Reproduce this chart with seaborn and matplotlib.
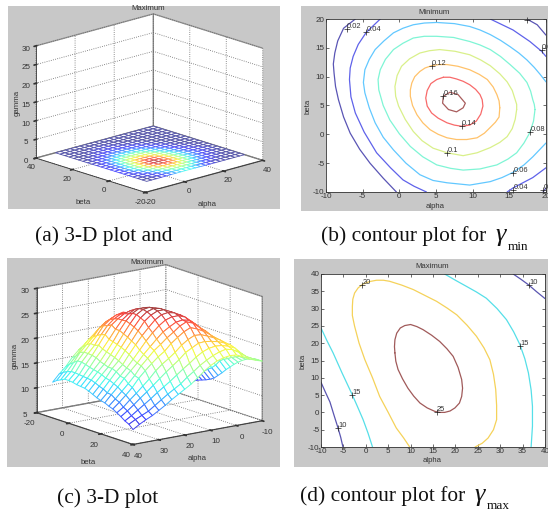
import matplotlib
matplotlib.use('Agg')
import matplotlib.pyplot as plt
from matplotlib import cm
from matplotlib.colors import Normalize
from matplotlib.patches import Rectangle
import numpy as np
import seaborn as sns

W, H = 548, 512

# mesh axes, shared by the two 3-D plots
mesh_alpha = [-10, -7.5, -5, -2.5, 0, 2.5, 5, 7.5, 10, 12.5, 15, 17.5, 20, 22.5, 25, 27.5, 30, 32.5, 35, 37.5, 40]
mesh_beta = [-10, -7.5, -5, -2.5, 0, 2.5, 5, 7.5, 10, 12.5, 15, 17.5, 20, 22.5, 25, 27.5, 30, 32.5, 35, 37.5, 40]

# gamma min, in hundredths, one row per beta
gamma_min_pct = [
    [0, 0, 0, 1, 2, 3, 4, 5, 5, 5, 4, 3, 2, 1, 0, 0, 0, 0, 0, 0, 0],
    [0, 0, 1, 1, 2, 4, 5, 6, 7, 7, 6, 5, 3, 2, 1, 1, 0, 0, 0, 0, 0],
    [0, 1, 1, 2, 4, 5, 7, 8, 9, 9, 8, 6, 5, 3, 2, 1, 1, 0, 0, 0, 0],
    [1, 1, 2, 3, 5, 7, 9, 10, 11, 10, 9, 8, 6, 4, 3, 2, 1, 1, 0, 0, 0],
    [1, 2, 3, 5, 7, 9, 11, 12, 13, 13, 11, 9, 7, 5, 4, 2, 1, 1, 0, 0, 0],
    [1, 2, 4, 6, 8, 11, 13, 15, 15, 14, 12, 10, 8, 6, 4, 3, 2, 1, 1, 0, 0],
    [1, 3, 5, 7, 9, 12, 14, 16, 16, 14, 13, 10, 8, 6, 4, 3, 2, 1, 1, 0, 0],
    [1, 3, 4, 7, 9, 11, 14, 15, 15, 14, 12, 10, 8, 6, 4, 3, 2, 1, 1, 0, 0],
    [1, 2, 4, 6, 8, 10, 12, 14, 14, 13, 11, 9, 7, 5, 4, 2, 1, 1, 0, 0, 0],
    [1, 2, 4, 6, 8, 10, 11, 12, 12, 11, 10, 8, 6, 5, 3, 2, 1, 1, 0, 0, 0],
    [1, 2, 3, 5, 7, 8, 10, 10, 10, 9, 8, 7, 5, 4, 2, 1, 1, 0, 0, 0, 0],
    [1, 1, 3, 4, 6, 7, 8, 8, 8, 8, 7, 5, 4, 3, 2, 1, 0, 0, 0, 0, 0],
    [0, 1, 2, 3, 4, 5, 6, 6, 6, 6, 5, 4, 3, 2, 1, 1, 0, 0, 0, 0, 0],
    [0, 1, 1, 2, 3, 4, 4, 4, 4, 4, 3, 3, 2, 1, 1, 0, 0, 0, 0, 0, 0],
    [0, 0, 1, 1, 2, 2, 3, 3, 3, 3, 2, 2, 1, 1, 0, 0, 0, 0, 0, 0, 0],
    [0, 0, 0, 1, 1, 1, 2, 2, 2, 1, 1, 1, 1, 0, 0, 0, 0, 0, 0, 0, 0],
    [0, 0, 0, 0, 1, 1, 1, 1, 1, 1, 1, 0, 0, 0, 0, 0, 0, 0, 0, 0, 0],
    [0, 0, 0, 0, 0, 1, 1, 1, 1, 0, 0, 0, 0, 0, 0, 0, 0, 0, 0, 0, 0],
    [0, 0, 0, 0, 0, 0, 0, 0, 0, 0, 0, 0, 0, 0, 0, 0, 0, 0, 0, 0, 0],
    [0, 0, 0, 0, 0, 0, 0, 0, 0, 0, 0, 0, 0, 0, 0, 0, 0, 0, 0, 0, 0],
    [0, 0, 0, 0, 0, 0, 0, 0, 0, 0, 0, 0, 0, 0, 0, 0, 0, 0, 0, 0, 0],
]

# gamma max, one row per beta
gamma_max = [
    [7, 8.7, 10, 12, 13.8, 15.6, 17, 18.7, 20, 21, 21.5, 21.7, 21.4, 20.7, 19.7, 18.7, 17.7, 16.4, 14.8, 13.6, 12.2],
    [7.5, 9, 10.5, 13, 14.6, 16.2, 18, 19.7, 21, 22, 22.8, 23, 22.8, 22.2, 21, 19.9, 18.6, 17, 15.6, 14.2, 12.8],
    [8, 9.5, 11, 13.5, 15.3, 17.2, 19, 20.6, 22, 23, 23.8, 24, 23.8, 23.2, 22.2, 20.6, 19.3, 18, 16.2, 14.6, 13.2],
    [8.5, 10.2, 11.8, 14, 16.1, 18, 20, 21.5, 22.9, 23.9, 24.6, 24.9, 24.6, 23.9, 22.9, 21.2, 19.8, 18.3, 16.8, 14.9, 13.6],
    [8.9, 10.6, 12.4, 14.6, 16.8, 19, 20.8, 22.4, 23.8, 24.6, 25, 25.1, 25, 24.3, 23.2, 21.6, 19.7, 18.3, 16.8, 14.9, 13.6],
    [9.2, 11, 13, 15, 17.5, 19.5, 21.4, 23, 24.3, 25.1, 25.6, 25.8, 25.4, 24.6, 23.6, 21.9, 20, 18.2, 16.6, 14.8, 13.5],
    [9.5, 11.3, 13.4, 15.6, 17.8, 19.8, 21.7, 23.6, 24.7, 25.6, 26.2, 26.3, 25.6, 24.6, 23, 21.2, 19.5, 18, 16.3, 14.7, 13.3],
    [9.9, 11.8, 14, 16.2, 18.2, 20.2, 22.2, 24, 25.4, 26.2, 26.7, 26.7, 26, 24.7, 23, 21, 19.2, 17.5, 16.1, 14.6, 13.2],
    [10.4, 12.4, 14.9, 16.7, 18.8, 20.8, 22.9, 24.7, 25.8, 26.6, 27, 26.8, 26, 24.4, 22.6, 20.7, 18.9, 17.2, 15.9, 14.5, 13.1],
    [11.2, 13, 15.4, 17.3, 19.5, 21.4, 23.4, 25.1, 26, 26.8, 27, 26.6, 25.6, 24, 22.2, 20.4, 18.6, 16.9, 15.6, 14.2, 12.8],
    [12, 13.8, 15.8, 17.9, 20.1, 22, 23.9, 25.4, 26.2, 26.8, 26.8, 26.2, 25.2, 23.5, 21.7, 20, 18.2, 16.9, 15.2, 13.8, 12.4],
    [12.9, 14.9, 16.5, 18.6, 20.6, 22.4, 24.2, 25.5, 26.2, 26.5, 26.3, 25.5, 24.2, 22.8, 21.2, 19.5, 17.7, 16.5, 15, 13.5, 12],
    [13.7, 15.5, 17.1, 19.2, 21, 22.7, 24.3, 25.4, 25.9, 25.9, 25.5, 24.6, 23.4, 22, 20.4, 18.8, 17.3, 15.9, 14.6, 13, 11.7],
    [14.5, 15.9, 17.6, 19.8, 21.3, 22.8, 24, 25, 25.3, 25.1, 24.4, 23.6, 22.4, 21.1, 19.8, 18.3, 17, 15.7, 14.2, 12.9, 11.5],
    [15.2, 16.4, 18, 20, 21.3, 22.6, 23.6, 24.7, 25.2, 24.6, 23.6, 22.7, 21.6, 20.6, 19.3, 18, 16.3, 14.9, 13.6, 12.3, 11.1],
    [15.8, 16.8, 18.3, 20.1, 21.2, 22.2, 23.1, 23.8, 24.3, 23.7, 22.8, 21.8, 20.5, 19.6, 18.5, 17.3, 16, 14.4, 13.1, 11.9, 10.8],
    [16.3, 17.1, 18.5, 20.2, 21.1, 21.8, 22.4, 22.9, 23, 22.4, 21.5, 20.3, 19.3, 18.4, 17.3, 15.9, 14.7, 13.5, 12.4, 11.2, 10.3],
    [16.6, 17.3, 18.6, 20.1, 20.8, 21.3, 21.6, 21.8, 21.7, 21, 20.3, 19.1, 18.1, 17.1, 16, 14.9, 13.8, 12.8, 11.7, 10.7, 9.8],
    [16.9, 17.4, 18.5, 19.8, 20.4, 20.8, 20.9, 20.7, 20.2, 19.4, 18.4, 17.5, 16.5, 15.5, 14.6, 13.7, 12.7, 11.8, 10.9, 10, 9.2],
    [17, 17.5, 18.2, 19.2, 20, 20.3, 20, 19.5, 18.8, 18, 17, 16.1, 15, 14.2, 13.4, 12.5, 11.6, 10.7, 10.1, 9.5, 8.8],
    [17, 17.4, 17.9, 18.6, 19.2, 19.3, 19.1, 18.7, 18, 17.1, 16, 15, 14.2, 13.4, 12.6, 11.7, 10.9, 10.1, 9.5, 8.8, 8],
]

# contour traces of panel (b), (alpha, beta)
min_002_left = [(-6, 20), (-7.6, 18.4), (-8.4, 16.2), (-8.8, 14.1), (-9, 12.2), (-8.9, 10.6), (-8.7, 8.3), (-8.3, 6), (-7.6, 3), (-6.7, 0.2), (-5.4, -2.6), (-4, -5), (-2.2, -7.6), (-0.4, -10)]
min_002_top = [(17.4, 20), (18.8, 19), (20, 17.2)]
min_002_low = [(19.6, -10), (20, -9.3)]
min_004_left = [(-2.6, 20), (-4.5, 17.7), (-5.6, 15.6), (-6.3, 13.5), (-6.7, 11.5), (-6.8, 9.5), (-6.6, 6.5), (-6, 3.7), (-4.8, 0.4), (-3.1, -3.2), (-1.2, -5.8), (0.5, -7.9), (2, -9), (3.7, -10)]
min_004_top = [(12.4, 20), (15.5, 18.1), (17.8, 16.1), (19.4, 14.4), (20, 13.5)]
min_004_low = [(14.7, -10), (15.5, -9.3), (18.2, -7.5), (20, -5.8)]
min_006 = [(20, 9.1), (19.2, 10.4), (18.4, 11.6), (17.4, 12.9), (16.3, 14.1), (15.1, 15.2), (13.8, 16.3), (12.4, 17.3), (11, 18.1), (9.6, 18.7), (7.5, 19.2), (5.1, 19.4), (3.4, 19.3), (1.9, 19), (0.5, 18.4), (-0.8, 17.6), (-2.1, 16.2), (-3.3, 14.7), (-4.1, 13), (-4.7, 11.2), (-4.9, 9), (-4.7, 7.2), (-4.1, 4.6), (-3.3, 2), (-2.2, -0.5), (-0.8, -2.7), (0.9, -5), (2.8, -7), (4.6, -8), (6.5, -8.4), (9.6, -8.8), (12.4, -8.2), (14, -7.5), (15.5, -6.6), (17, -5.3), (18.2, -3.9), (19.1, -2.7), (20, -1.5)]
min_008 = [(18.5, 4.3), (18.4, 5.2), (18.2, 6), (17.9, 7.5), (17.4, 9), (16.4, 10.6), (15.1, 12.1), (13.8, 13.5), (12.4, 14.7), (11, 15.5), (9.6, 16.1), (7.4, 16.8), (5.1, 17), (3.4, 17), (1.9, 16.7), (0.5, 15.8), (-0.8, 14.7), (-1.9, 13), (-2.6, 11.2), (-2.9, 9.5), (-2.8, 7.7), (-2.2, 5), (-1.3, 2.5), (0, 0.1), (1.5, -2.1), (3.2, -3.9), (5.1, -5.3), (7, -5.9), (8.7, -6.2), (11, -6), (13.3, -5.3), (14.8, -4.3), (16, -3.2), (17, -1.5), (17.8, 0.3), (18.3, 2.3), (18.5, 4.3)]
min_010 = [(16, 4.3), (16, 5.2), (15.8, 6), (15.4, 7.6), (14.7, 9.1), (13.7, 10.5), (12.4, 11.9), (11.1, 12.9), (9.6, 13.8), (7.6, 14.4), (5.5, 14.7), (4.1, 14.5), (2.8, 14.1), (1.4, 13.1), (0.3, 11.8), (-0.3, 10.2), (-0.6, 8.3), (-0.5, 6.6), (-0.1, 4.9), (0.8, 2.6), (1.9, 0.5), (3.1, -1.1), (4.6, -2.4), (6.5, -3.2), (8.7, -3.7), (10.6, -3.2), (12.4, -2.3), (13.7, -1.4), (14.7, -0.4), (15.4, 1), (15.8, 2.6), (16, 4.3)]
min_012 = [(13.7, 4.6), (13.6, 5.8), (13.3, 6.9), (12.8, 8.2), (12, 9.5), (10.9, 10.4), (9.6, 11.2), (8, 11.8), (6.5, 12.1), (5.4, 12.1), (4.4, 11.9), (3.5, 11.5), (2.8, 10.9), (2.1, 10), (1.7, 8.9), (1.5, 7.7), (1.5, 6.6), (1.8, 5), (2.4, 3.4), (3.2, 2), (4.2, 0.8), (5.3, 0), (6.5, -0.6), (7.8, -0.9), (9.2, -0.9), (10.6, -0.6), (11.6, 0.2), (12.4, 1.2), (13.1, 2.1), (13.6, 3), (13.7, 4.6)]
min_014 = [(6, 9.9), (5.1, 9.5), (4.3, 8.8), (3.8, 7.6), (3.6, 6.3), (3.8, 4.9), (4.4, 3.7), (5.3, 2.8), (6.5, 2), (7.5, 1.6), (8.5, 1.4), (9.6, 1.6), (10.5, 2.3), (11.1, 3.5), (11.4, 4.9), (11.3, 6), (11, 6.9), (10.4, 7.8), (9.6, 8.6), (8.7, 9.2), (7.8, 9.6), (6.9, 9.9), (6, 9.9)]
min_016 = [(6, 6.6), (6.9, 7.3), (8, 6.9), (9, 5.4), (8.7, 4.6), (7.8, 3.9), (6.7, 4.3), (5.9, 5.4), (6, 6.6)]

# contour traces of panel (d)
max_10_left = [(-10, 8.7), (-9, 5.8), (-8, 3), (-7.1, -0.8), (-6.2, -4.5), (-5.6, -7.2), (-5.1, -10)]
max_10_right = [(32.9, 40), (34.6, 38.5), (36.3, 36.9), (38.1, 34.9), (40, 32.9)]
max_15_left = [(-10, 24.4), (-8.7, 20.8), (-7.3, 17.2), (-5.3, 11.4), (-3.2, 5.6), (-1.9, 1.8), (-0.6, -2.1), (0.5, -6), (1.5, -10)]
max_15_right = [(17.6, 40), (20, 38.2), (22.5, 36.4), (24.7, 34.8), (26.9, 33), (29.3, 30), (31.4, 26.8), (33, 23.3), (34.4, 19.6), (35.5, 15.5), (36.3, 11.4), (36.9, 6.5), (37.2, 1.8), (37.2, -4), (36.9, -10)]
max_20 = [(9.8, -10), (8.4, -7.3), (6.8, -4.5), (5, 0), (3.1, 4.6), (1.5, 10), (-0.2, 15.2), (-1.5, 20), (-2.5, 24.9), (-3, 28), (-3, 30.6), (-2.9, 32.7), (-2.5, 34.5), (-1.7, 36), (-0.6, 37.1), (0.8, 37.8), (2.4, 38.2), (3.9, 38.2), (5.3, 37.9), (8, 36.8), (10.6, 35.5), (13.2, 33.8), (15.8, 32.1), (18.1, 30.2), (20.3, 28.2), (22.6, 25.2), (24.7, 22), (26.4, 18.6), (27.7, 15.2), (28.5, 11), (29, 6.6), (29.2, 2), (29.2, -2.1), (28.5, -5), (27.3, -7.4), (26, -8.9), (24.4, -10)]
max_25 = [(6.5, 17.2), (6.4, 19), (6.5, 21), (6.9, 22.9), (7.7, 24.4), (8.7, 25.1), (10, 25.4), (11.4, 24.8), (12.8, 23.9), (14.7, 22.3), (16.5, 20.5), (18.1, 18.4), (19.5, 16.2), (20.6, 13), (21.4, 9.5), (21.6, 7), (21.4, 4.6), (20.9, 2.7), (19.9, 1.3), (18.8, 0.4), (17.6, 0), (16.5, 0), (15.4, 0.3), (13.7, 1.3), (12.1, 2.7), (10.7, 4.7), (9.4, 7), (8.2, 9.7), (7.2, 12.4), (6.7, 14.8), (6.5, 17.2)]

# contour labels: text, alpha, beta
labels_min = [('0.02', -7.2, 18.3), ('0.04', -4.5, 17.7), ('0.12', 4.4, 11.8), ('0.16', 6, 6.6), ('0.14', 8.5, 1.5),
              ('0.1', 6.5, -3.2), ('0.08', 17.8, 0.4), ('0.06', 15.5, -6.7), ('0.04', 15.5, -9.6), ('0.02', 19.6, -9.7),
              ('0.04', 19.4, 14.6), ('', 17.4, 19.9)]
labels_max = [('20', -0.8, 36.8), ('10', 36.4, 36.8), ('15', 34.4, 19.1), ('15', -3.1, 5.1), ('10', -6.3, -4.4), ('25', 15.8, 0.1)]

captions = ['(a) 3-D plot and', '(b) contour plot for', '(c) 3-D plot', '(d) contour plot for']

sns.set_theme(style='white')
plt.rcParams['font.family'] = ['Liberation Sans', 'DejaVu Sans']
plt.rcParams['axes.unicode_minus'] = False
plt.rcParams['grid.linestyle'] = ':'
plt.rcParams['grid.color'] = '#666666'
plt.rcParams['grid.linewidth'] = 0.6
plt.rcParams['axes3d.grid'] = True

fig = plt.figure(figsize=(W / 100, H / 100), dpi=100, facecolor='white')


def rect(x0, y0, x1, y1):
    # pixel box, y counted from the top
    return [x0 / W, 1 - y1 / H, (x1 - x0) / W, (y1 - y0) / H]


def label(x, y, s, **kw):
    kw.setdefault('fontsize', 5.6)
    kw.setdefault('color', '#333333')
    kw.setdefault('ha', 'center')
    kw.setdefault('va', 'center')
    fig.text(x / W, 1 - y / H, s, **kw)


# grey figure backgrounds
for box in [(8, 6, 280, 209), (301, 6, 548, 211), (7, 258, 280, 467), (294, 259, 548, 467)]:
    x, y, w, h = rect(*box)
    fig.add_artist(Rectangle((x, y), w, h, transform=fig.transFigure, fc='#c8c8c8', ec='none', zorder=-5))


def mesh_panel(box, z_values, zlim, xlim, ylim, xticks, yticks, zticks, azim, elev, aspect, lw, keep, pad):
    ax = fig.add_axes(rect(*box), projection='3d', proj_type='ortho')
    ax.patch.set_alpha(0)
    ax.view_init(elev=elev, azim=azim)
    ax.set_box_aspect(aspect)
    x, y = np.meshgrid(mesh_alpha, mesh_beta)
    z = np.array(z_values, dtype=float)
    surf = ax.plot_surface(x, y, z, rstride=1, cstride=1, color='white', shade=False, linewidth=lw)
    cells = (z[:-1, :-1] + z[1:, :-1] + z[:-1, 1:] + z[1:, 1:]) / 4
    cols = cm.jet(Normalize(z.min(), z.max())(cells)).reshape(-1, 4)
    # the scan is pale, blend the edge colours towards white
    cols[:, :3] = cols[:, :3] * keep + (1 - keep)
    surf.set_edgecolor(cols)
    ax.set_xlim(*xlim)
    ax.set_ylim(*ylim)
    ax.set_zlim(*zlim)
    ax.set_xticks(xticks)
    ax.set_yticks(yticks)
    ax.set_zticks(zticks)
    ax.tick_params(labelsize=5.8, pad=pad, colors='#333333', length=2)
    for axis in (ax.xaxis, ax.yaxis, ax.zaxis):
        axis.set_pane_color((1, 1, 1, 1))
        axis.pane.set_edgecolor('#999999')
        axis.line.set_color('#333333')
        axis.line.set_linewidth(0.6)
    return ax


mesh_panel((22, -17.5, 270, 230.5), np.array(gamma_min_pct) / 100, (0, 30), (-20, 40), (-20, 40),
           [-20, 0, 20, 40], [-20, 0, 20, 40], [0, 5, 10, 15, 20, 25, 30], -133, 17, (160, 160, 117), 0.6, 0.68, -4)
mesh_panel((19, 231, 273, 485), gamma_max, (5, 30), (-10, 40), (-20, 40),
           [-10, 0, 10, 20, 30, 40], [-20, 0, 20, 40], [5, 10, 15, 20, 25, 30], 53.3, 14.25, (161, 161, 128), 0.7, 0.75, -3)


def contour_panel(box, xlim, ylim, xticks, yticks, traces, marks):
    ax = fig.add_axes(rect(*box))
    ax.set_facecolor('white')
    for pts, color in traces:
        sns.lineplot(x=[p[0] for p in pts], y=[p[1] for p in pts], sort=False, estimator=None,
                     color=color, linewidth=0.9, ax=ax)
    for s, a, b in marks:
        ax.plot(a, b, marker='+', color='#222222', ms=4.5, mew=0.5, clip_on=False)
        ax.annotate(s, (a, b), xytext=(0.3, 0.8), textcoords='offset points', fontsize=5.4, color='#333333',
                    annotation_clip=False)
    ax.set_xlim(*xlim)
    ax.set_ylim(*ylim)
    ax.set_xticks(xticks)
    ax.set_yticks(yticks)
    ax.tick_params(direction='in', length=2, width=0.5, labelsize=5.8, pad=1, colors='#333333', top=True, right=True,
                   bottom=True, left=True)
    for sp in ax.spines.values():
        sp.set_linewidth(0.6)
        sp.set_color('#333333')
    return ax


contour_panel((326, 19, 546, 192), (-10, 20), (-10, 20), [-10, -5, 0, 5, 10, 15, 20], [-10, -5, 0, 5, 10, 15, 20],
              [(min_002_left, '#5a55b5'), (min_002_top, '#5a55b5'), (min_002_low, '#5a55b5'),
               (min_004_left, '#5f62ea'), (min_004_top, '#5f62ea'), (min_004_low, '#5f62ea'),
               (min_006, '#62c8ff'), (min_008, '#7ff5d5'), (min_010, '#d9f08a'),
               (min_012, '#ffc26a'), (min_014, '#f86a6a'), (min_016, '#a85c5c')], labels_min)
contour_panel((321, 274, 545, 447), (-10, 40), (-10, 40), [-10, -5, 0, 5, 10, 15, 20, 25, 30, 35, 40],
              [-10, -5, 0, 5, 10, 15, 20, 25, 30, 35, 40],
              [(max_10_left, '#5a55b0'), (max_10_right, '#5a55b0'), (max_15_left, '#55dfe8'), (max_15_right, '#55dfe8'),
               (max_20, '#f5d25a'), (max_25, '#a05a5a')], labels_max)

# titles and axis names
label(148, 9, 'Maximum')
label(434, 12, 'Minimum')
label(147, 263, 'Maximum')
label(432, 266, 'Maximum')
label(207, 204, 'alpha')
label(83, 203, 'beta')
label(17, 103, 'gamma', rotation=90)
label(197, 459, 'alpha')
label(88, 463, 'beta')
label(15, 356, 'gamma', rotation=90)
label(435, 207, 'alpha')
label(308, 106, 'beta', rotation=90)
label(432, 461, 'alpha')
label(303, 361, 'beta', rotation=90)

# captions
cap = dict(family='Liberation Serif', fontsize=15.4, color='#111111', ha='left', va='baseline')
label(35, 241.5, captions[0], **cap)
label(321, 241.5, captions[1], **cap)
label(57, 503, captions[2], **cap)
label(300, 501, captions[3], **cap)
greek = dict(family='Liberation Serif', style='italic', fontsize=19, color='#111111', ha='left', va='baseline')
sub = dict(family='Liberation Serif', fontsize=9.5, color='#111111', ha='left', va='baseline')
label(496, 241, '\u03b3', **greek)
label(508, 250, 'min', **sub)
label(475, 501, '\u03b3', **greek)
label(487, 509, 'max', **sub)

fig.savefig('out.png', dpi=100)
